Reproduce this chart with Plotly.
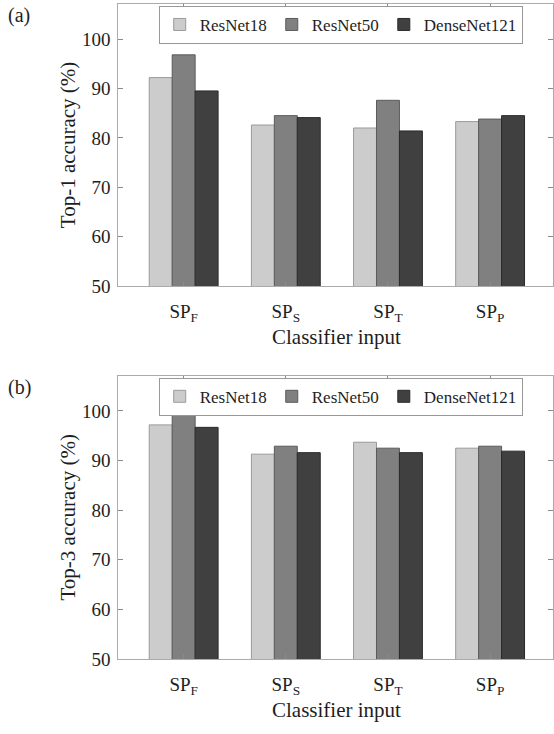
import plotly.graph_objects as go

# ---------------- data ----------------
categories = ["SP<sub>F</sub>", "SP<sub>S</sub>", "SP<sub>T</sub>", "SP<sub>P</sub>"]
models = ["ResNet18", "ResNet50", "DenseNet121"]

top1_resnet18 = [92.2, 82.6, 82.0, 83.3]
top1_resnet50 = [96.8, 84.5, 87.6, 83.8]
top1_densenet121 = [89.5, 84.1, 81.4, 84.5]

top3_resnet18 = [97.2, 91.3, 93.7, 92.5]
top3_resnet50 = [99.1, 92.9, 92.5, 92.9]
top3_densenet121 = [96.7, 91.6, 91.6, 91.9]

y_ticks = [50, 60, 70, 80, 90, 100]

# ---------------- style ----------------
W, H = 554, 734
FONT = "Liberation Serif"
TXT = "#1e1e1e"
fill_colors = ["#cccccc", "#808080", "#404040"]
line_colors = ["#9a9a9a", "#5a5a5a", "#2a2a2a"]
frame = "#ababab"


def px_x(x):
    return x / W


def px_y(y):
    return 1 - y / H


YMAX = 107.0
panels = [
    dict(vals=[top1_resnet18, top1_resnet50, top1_densenet121], ytitle="Top-1 accuracy (%)",
         label="(a)", top=4.5, bottom=290.5, xa="x", ya="y", lg="legend"),
    dict(vals=[top3_resnet18, top3_resnet50, top3_densenet121], ytitle="Top-3 accuracy (%)",
         label="(b)", top=382, bottom=669, xa="x2", ya="y2", lg="legend2"),
]

fig = go.Figure()
layout = dict(
    width=W, height=H,
    margin=dict(l=0, r=0, t=0, b=0),
    paper_bgcolor="white", plot_bgcolor="white",
    barmode="group", bargap=0.326, bargroupgap=0,
    font=dict(family=FONT, size=19, color=TXT),
    showlegend=True,
    annotations=[],
)

left_px = 118.5
cat_px = [184, 491]
spacing = (cat_px[1] - cat_px[0]) / 3
xr = [-(cat_px[0] - left_px) / spacing, 3 + (W - cat_px[1]) / spacing]

for i, p in enumerate(panels):
    for j, m in enumerate(models):
        fig.add_trace(go.Bar(
            x=categories, y=p["vals"][j], name=m,
            marker=dict(color=fill_colors[j], line=dict(color=line_colors[j], width=1)),
            xaxis=p["xa"], yaxis=p["ya"], legend=p["lg"],
        ))
    ydom = [px_y(p["bottom"]), px_y(p["top"])]
    suffix = "" if i == 0 else "2"
    layout["xaxis" + suffix] = dict(
        domain=[px_x(left_px), 1], anchor=p["ya"], type="category", range=xr,
        showline=True, linecolor=frame, linewidth=1, mirror="ticks",
        ticks="inside", ticklen=5, tickcolor="#8a8a8a",
        tickfont=dict(size=19, family=FONT, color=TXT),
        ticklabelstandoff=8, showgrid=False, zeroline=False,
    )
    layout["yaxis" + suffix] = dict(
        domain=ydom, anchor=p["xa"], range=[50, YMAX],
        tickvals=y_ticks, ticktext=[str(v) for v in y_ticks],
        showline=True, linecolor=frame, linewidth=1, mirror="ticks",
        ticks="inside", ticklen=5, tickcolor="#8a8a8a",
        tickfont=dict(size=19, family=FONT, color=TXT),
        ticklabelstandoff=3, showgrid=False, zeroline=False,
    )
    layout[p["lg"]] = dict(
        orientation="h", x=px_x(159), xanchor="left",
        y=px_y(p["top"] + 1.5), yanchor="top",
        bgcolor="white", bordercolor="#999999", borderwidth=1,
        font=dict(size=17, family=FONT, color=TXT),
        itemwidth=30, tracegroupgap=0,
    )
    # y axis title
    layout["annotations"].append(dict(
        text=p["ytitle"], xref="paper", yref="paper",
        x=px_x(68), y=px_y((p["top"] + p["bottom"]) / 2),
        xanchor="center", yanchor="middle", textangle=-90, showarrow=False,
        font=dict(size=21, family=FONT, color=TXT),
    ))
    # x axis title
    layout["annotations"].append(dict(
        text="Classifier input", xref="paper", yref="paper",
        x=px_x(337.5), y=px_y(p["bottom"] + 52),
        xanchor="center", yanchor="middle", showarrow=False,
        font=dict(size=21, family=FONT, color=TXT),
    ))
    # panel label
    layout["annotations"].append(dict(
        text=p["label"], xref="paper", yref="paper",
        x=px_x(6), y=px_y(max(p["top"] + 11, 14)),
        xanchor="left", yanchor="middle", showarrow=False,
        font=dict(size=20, family=FONT, color=TXT),
    ))

fig.update_layout(**layout)
fig.write_html("out.html",
               config={"displayModeBar": False},
               post_script="document.body.style.margin='0';document.body.style.overflow='hidden';")
